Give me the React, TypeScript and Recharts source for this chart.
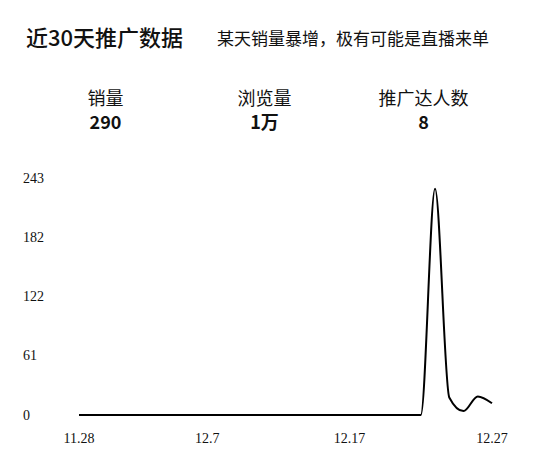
import { LineChart, Line, XAxis, YAxis } from "recharts";

const dates = [
  "11.28", "11.29", "11.30", "12.1", "12.2", "12.3", "12.4", "12.5", "12.6", "12.7",
  "12.8", "12.9", "12.10", "12.11", "12.12", "12.13", "12.14", "12.15", "12.16", "12.17",
  "12.18", "12.19", "12.20", "12.21", "12.22", "12.23", "12.24", "12.25", "12.26", "12.27",
];
const sales = [
  0, 0, 0, 0, 0, 0, 0, 0, 0, 0,
  0, 0, 0, 0, 0, 0, 0, 0, 0, 0,
  0, 0, 0, 0, 0, 232, 18, 4, 19, 12,
];
const xTicks = ["11.28", "12.7", "12.17", "12.27"];
const yTicks = [0, 61, 122, 182, 243];

const statLabels = ["销量", "浏览量", "推广达人数"];
const statValues = ["290", "1万", "8"];

const data = dates.map((d, i) => ({ date: d, sales: sales[i] }));

const cjk = '"Noto Sans CJK SC", "Noto Sans", sans-serif';
const serif = '"Liberation Serif", serif';

export default function App() {
  return (
    <div style={{ position: "relative", width: 533, height: 463, background: "#fff", fontFamily: cjk }}>
      <style>{`body{margin:0}`}</style>

      {/* header */}
      <div style={{ position: "absolute", left: 26, top: 20, fontSize: 22, lineHeight: "32px", color: "#111", fontWeight: 500 }}>
        近30天推广数据
      </div>
      <div style={{ position: "absolute", left: 217, top: 26, fontSize: 17, lineHeight: "24px", color: "#111" }}>
        某天销量暴增，极有可能是直播来单
      </div>

      {/* stats */}
      <div style={{ position: "absolute", left: 26, top: 86, width: 477, display: "flex" }}>
        {statLabels.map((label, i) => (
          <div key={label} style={{ width: 159, textAlign: "center", color: "#111" }}>
            <div style={{ fontSize: 18, lineHeight: "22px" }}>{label}</div>
            <div style={{ fontSize: 18, lineHeight: "22px", fontWeight: 700, marginTop: 2 }}>{statValues[i]}</div>
          </div>
        ))}
      </div>

      {/* chart */}
      <div style={{ position: "absolute", left: 0, top: 150 }}>
        <LineChart width={533} height={310} data={data} margin={{ top: 28, right: 41, bottom: 15, left: 0 }}>
          <XAxis
            dataKey="date"
            ticks={xTicks}
            interval={0}
            axisLine={false}
            tickLine={false}
            tickSize={0}
            tickMargin={18}
            height={30}
            tick={{ fontFamily: serif, fontSize: 14, fill: "#111" }}
          />
          <YAxis
            domain={[0, 243]}
            ticks={yTicks}
            axisLine={false}
            tickLine={false}
            tickSize={0}
            tickMargin={0}
            width={79}
            tick={{ fontFamily: serif, fontSize: 14, fill: "#111", textAnchor: "start", dx: -56 }}
          />
          <Line type="monotone" dataKey="sales" stroke="#000" strokeWidth={2} dot={false} isAnimationActive={false} />
        </LineChart>
      </div>
    </div>
  );
}
